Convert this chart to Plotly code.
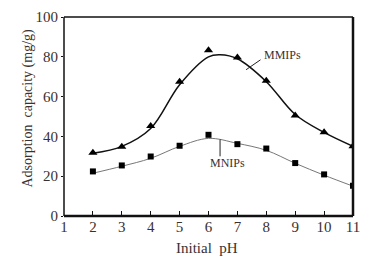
import plotly.graph_objects as go

ph = [2, 3, 4, 5, 6, 7, 8, 9, 10, 11]
mmips = [31.8, 34.8, 45.2, 67.4, 83.3, 79.6, 68.0, 50.5, 42.1, 35.1]
mnips = [22.4, 25.4, 29.9, 35.3, 40.8, 36.1, 33.9, 26.6, 20.9, 15.2]

# fitted curves
fit_x = [2, 3, 4, 5, 6, 6.4, 7, 8, 9, 10, 11]
mmips_fit = [31.5, 35.0, 44.0, 66.0, 80.0, 81.0, 79.0, 67.5, 51.0, 42.0, 35.0]
mnips_fit_x = [2, 3, 4, 5, 6, 7, 8, 9, 10, 11]
mnips_fit = [21.5, 25.0, 29.0, 35.0, 39.0, 36.5, 33.0, 26.5, 20.5, 15.0]

x_ticks = [1, 2, 3, 4, 5, 6, 7, 8, 9, 10, 11]
y_ticks = [0, 20, 40, 60, 80, 100]

txt = "#3a3030"
font = "Liberation Serif"

fig = go.Figure()
fig.add_trace(go.Scatter(x=fit_x, y=mmips_fit, mode="lines", line=dict(color="#111", width=1.5, shape="spline", smoothing=1.0), hoverinfo="skip", showlegend=False))
fig.add_trace(go.Scatter(x=mnips_fit_x, y=mnips_fit, mode="lines", line=dict(color="#777", width=1, shape="spline", smoothing=1.0), hoverinfo="skip", showlegend=False))
fig.add_trace(go.Scatter(x=ph, y=mmips, mode="markers", name="MMIPs", marker=dict(symbol="triangle-up", size=8, color="#000"), showlegend=False))
fig.add_trace(go.Scatter(x=ph, y=mnips, mode="markers", name="MNIPs", marker=dict(symbol="square", size=6, color="#000"), showlegend=False))

fig.add_annotation(x=7.85, y=81, text="MMIPs", showarrow=False, xanchor="left", yanchor="middle", font=dict(family=font, size=12, color=txt))
fig.add_shape(type="line", x0=7.3, y0=73.5, x1=7.8, y1=78.5, line=dict(color="#222", width=1))
fig.add_annotation(x=6.65, y=26.5, text="MNIPs", showarrow=False, xanchor="center", yanchor="middle", font=dict(family=font, size=12, color=txt))
fig.add_shape(type="line", x0=6.4, y0=38.5, x1=6.4, y1=30, line=dict(color="#222", width=1))

# axis titles
fig.add_annotation(xref="paper", yref="paper", x=0.495, y=0, yshift=-32, text="Initial  pH", showarrow=False,
                   xanchor="center", yanchor="middle", font=dict(family=font, size=15, color=txt))
fig.add_annotation(xref="paper", yref="paper", x=0, xshift=-36, y=0.54, text="Adsorption  capacity (mg/g)", showarrow=False,
                   textangle=-90, xanchor="center", yanchor="middle", font=dict(family=font, size=14, color=txt))

# frame
fig.add_shape(type="line", xref="paper", yref="paper", x0=0, y0=1, x1=1, y1=1, line=dict(color="#111", width=1.5))
fig.add_shape(type="line", xref="paper", yref="paper", x0=0, y0=0, x1=0, y1=1, line=dict(color="#111", width=1.5))
fig.add_shape(type="line", xref="paper", yref="paper", x0=1, y0=0, x1=1, y1=1, line=dict(color="#111", width=2.5))
fig.add_shape(type="line", xref="paper", yref="paper", x0=0, y0=0, x1=1, y1=0, line=dict(color="#111", width=2.5))

fig.update_layout(
    width=375, height=269,
    margin=dict(l=56, r=30, t=9, b=61),
    paper_bgcolor="white", plot_bgcolor="white",
    font=dict(family=font, color=txt, size=15),
    xaxis=dict(range=[1, 11], tickvals=x_ticks, ticktext=[str(v) for v in x_ticks],
               ticks="inside", ticklen=5, tickcolor="#111", tickwidth=1,
               showgrid=False, zeroline=False, showline=False, automargin=False,
               tickfont=dict(size=15)),
    yaxis=dict(range=[0, 100], tickvals=y_ticks, ticks="outside", ticklen=2, tickcolor="#111",
               showgrid=False, zeroline=False, showline=False, automargin=False,
               tickfont=dict(size=15)),
)

fig.write_html("out.html")
